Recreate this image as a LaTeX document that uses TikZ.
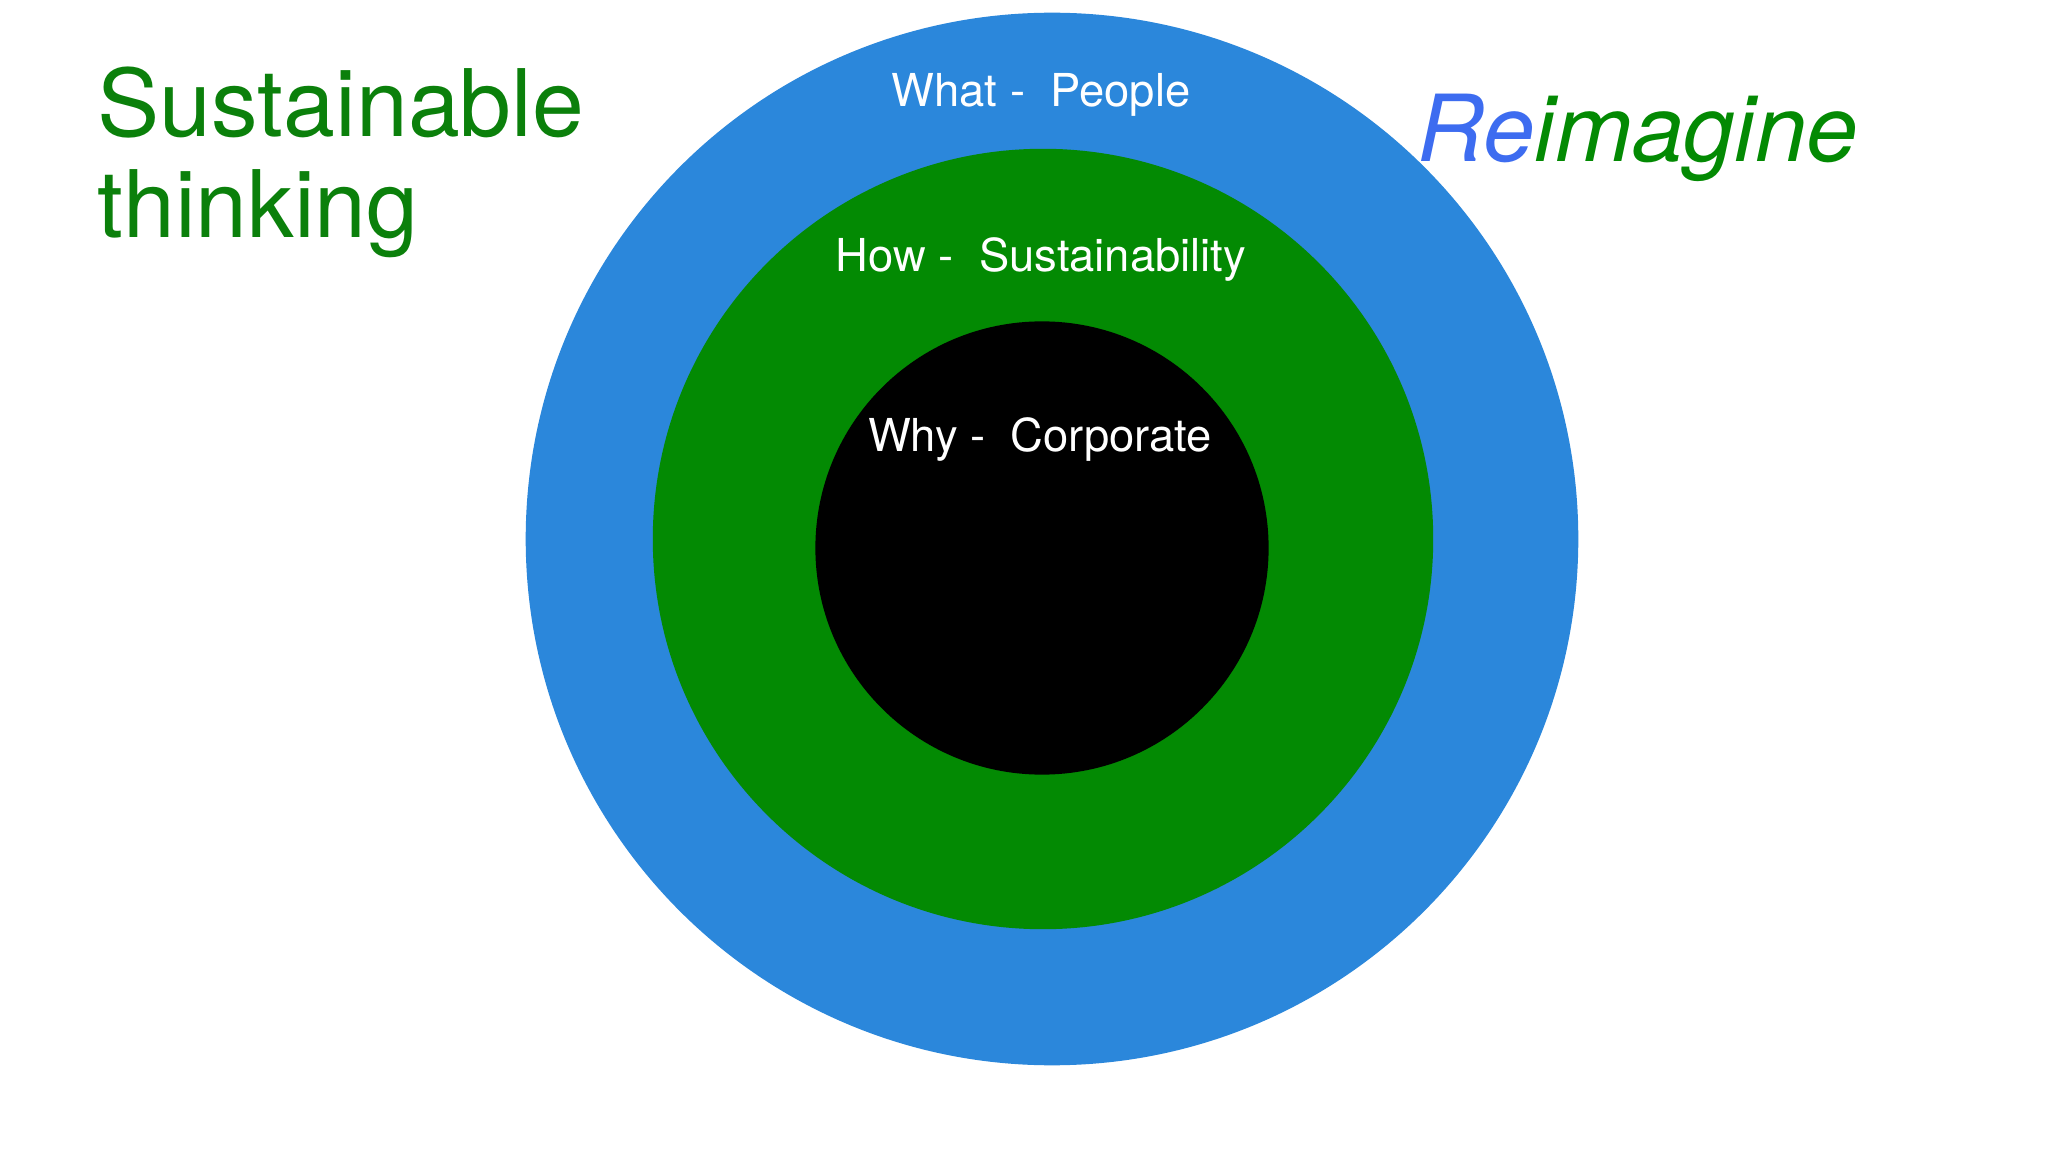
\documentclass[tikz,border=0pt]{standalone}
\usepackage{fontspec}
\setmainfont{TeX Gyre Heros}
\definecolor{ringblue}{HTML}{2B87DB}
\definecolor{ringgreen}{HTML}{038A03}
\definecolor{titlegreen}{HTML}{0B800B}
\definecolor{reblue}{HTML}{3D6CF0}
\tikzset{
  ring/.style={circle, inner sep=0pt},
  ringlabel/.style={text=white, anchor=base, inner sep=0pt, font=\fontsize{12.9}{15}\selectfont},
  bigtext/.style={anchor=base west, inner sep=0pt, font=\fontsize{26.5}{29}\selectfont}
}
\begin{document}
\begin{tikzpicture}[x=0.01cm, y=-0.01cm]
\useasboundingbox[fill=white] (0,0) rectangle (2048,1152);
% the three rings
\node[ring, fill=ringblue, minimum size=10.52cm] (what) at (1052,539) {};
\node[ring, fill=ringgreen, minimum size=7.8cm] (how) at (1043,539) {};
\node[ring, fill=black, minimum size=4.53cm] (why) at (1042,548) {};
\node[ringlabel] (whatlbl) at (1041,107) {What -\ \ People};
\node[ringlabel] (howlbl) at (1041,272) {How -\ \ Sustainability};
\node[ringlabel] (whylbl) at (1040,452) {Why -\ \ Corporate};
% titles
\node[bigtext, text=titlegreen] (sust) at (97,137) {Sustainable};
\node[bigtext, text=titlegreen] (think) at (97,238) {thinking};
\node[bigtext, font=\fontsize{26.3}{29}\selectfont\itshape] (reim) at (1417,162) {\textcolor{reblue}{Re}\textcolor{ringgreen}{imagine}};
\end{tikzpicture}
\end{document}
